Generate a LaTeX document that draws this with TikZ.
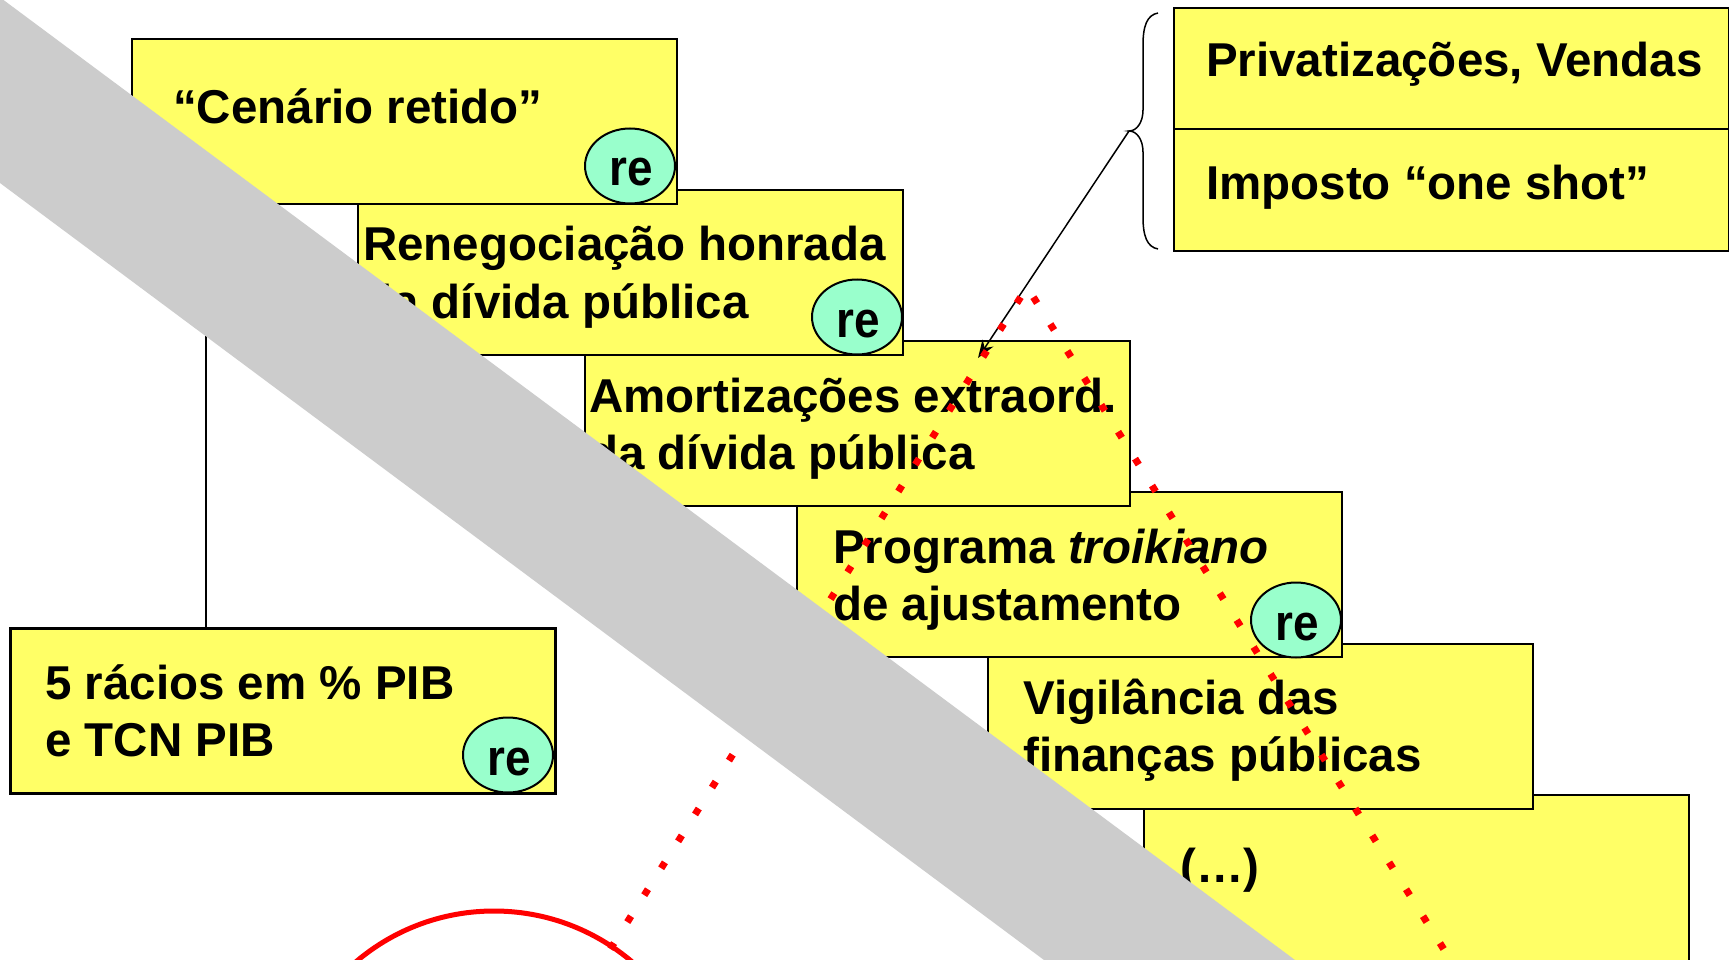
\documentclass[tikz,border=0pt]{standalone}
\usepackage{fontspec}
\usepackage{graphicx}
\setmainfont{Liberation Sans}
\usetikzlibrary{arrows.meta,shapes.geometric}
\definecolor{boxyellow}{HTML}{FFFF66}
\definecolor{mint}{HTML}{99FFCC}
\definecolor{bandgrey}{HTML}{CCCCCC}
\definecolor{dotred}{HTML}{FF0000}
\newcommand{\retext}{\scalebox{0.9}[1]{re}}
\begin{document}
\begin{tikzpicture}[x=1pt,y=-1pt,
  box/.style={draw=black, line width=2.3pt, fill=boxyellow, anchor=north west, inner sep=0pt,
              minimum width=545pt, minimum height=165pt},
  lbl/.style={anchor=base west, inner sep=0pt, font=\fontsize{47.5}{57}\selectfont\bfseries},
  bubble/.style={ellipse, draw=black, line width=2pt, fill=mint, inner sep=0pt,
                 minimum width=90pt, minimum height=75pt},
  bubtxt/.style={anchor=base, inner sep=0pt, font=\fontsize{51}{60}\selectfont\bfseries},
  thin/.style={draw=black, line width=1.5pt},
  reddots/.style={draw=dotred, line width=7pt, dash pattern=on 7pt off 24.8pt, dash phase=19.8pt}
]
\useasboundingbox (0,0) rectangle (1729,960);
\clip (0,0) rectangle (1729,960);
\fill[white] (0,0) rectangle (1729,960);

% top-right boxes
\node[box, minimum width=555pt, minimum height=121pt] (bp) at (1173,7) {};
\node[box, minimum width=555pt, minimum height=122pt] (bi) at (1173,128) {};
\node[lbl] (tp) at (1206,77) {Privatizações, Vendas};
\node[lbl] (ti) at (1206,200) {Imposto “one shot”};

% cascade (drawn bottom-most first)
\node[box, minimum height=170pt] (b6) at (1143,794) {};
\node[lbl] (t6) at (1180,882) {(…)};

\node[box] (b5) at (987,643) {};
\node[lbl] (t5a) at (1023,714) {Vigilância das};
\node[lbl] (t5b) at (1023,771.5) {finanças públicas};

\node[box] (b4) at (796,491) {};
\node[lbl] (t4a) at (833,563) {Programa \textit{troikiano}};
\node[lbl] (t4b) at (833,620) {de ajustamento};
\node[bubble] (c4) at (1296,620) {};
\node[bubtxt] (r4) at (1297,640) {\retext};

\node[box] (b3) at (584,340) {};
\node[lbl] (t3a) at (589,412) {Amortizações extraord.};
\node[lbl] (t3b) at (589,469) {da dívida pública};

\node[box] (b2) at (357,189) {};
\node[lbl] (t2a) at (363,260) {Renegociação honrada};
\node[lbl] (t2b) at (363,318) {da dívida pública};
\node[bubble] (c2) at (857,317) {};
\node[bubtxt] (r2) at (858,337) {\retext};

\node[box] (b1) at (131,38) {};
\node[lbl] (t1) at (173,124) {“Cenário retido”};
\node[bubble] (c1) at (630,166) {};
\node[bubtxt] (r1) at (631,186) {\retext};

\node[box, line width=2.8pt] (b7) at (9,627) {};
\node[lbl] (t7a) at (45,699) {5 rácios em \% PIB};
\node[lbl] (t7b) at (45,756) {e TCN PIB};
\node[bubble] (c7) at (508,755) {};
\node[bubtxt] (r7) at (509,775) {\retext};

% vertical connector
\coordinate (vl) at (206,0);
\draw[thin] (b1.south -| vl) -- (b7.north -| vl);

% brace
\coordinate (btip) at (1129,131);
\draw[thin] (1158,13) .. controls (1147,15) and (1143,26) .. (1143,45)
  -- (1143,110) .. controls (1143,122) and (1137,131) .. (btip)
  .. controls (1137,131) and (1143,140) .. (1143,152)
  -- (1143,217) .. controls (1143,236) and (1147,247) .. (1158,249);

% arrow
\coordinate (aend) at (978,358);
\draw[thin, -{Stealth[length=18pt,width=13pt,inset=6pt]}] (btip) -- (aend);

% red dotted tent
\coordinate (apex) at (1027,287);
\coordinate (dl) at (594,975);
\coordinate (dr) at (1460,975);
\draw[reddots] (apex) -- (dl);
\draw[reddots] (apex) -- (dr);

% red circle
\coordinate (rc) at (494,1124);
\draw[draw=dotred, line width=5pt] (rc) circle[radius=213pt];

% grey band on top
\fill[bandgrey] (0,0) -- (3.5,0) -- (1295,960) -- (1044,960) -- (0,183) -- cycle;
\end{tikzpicture}
\end{document}
